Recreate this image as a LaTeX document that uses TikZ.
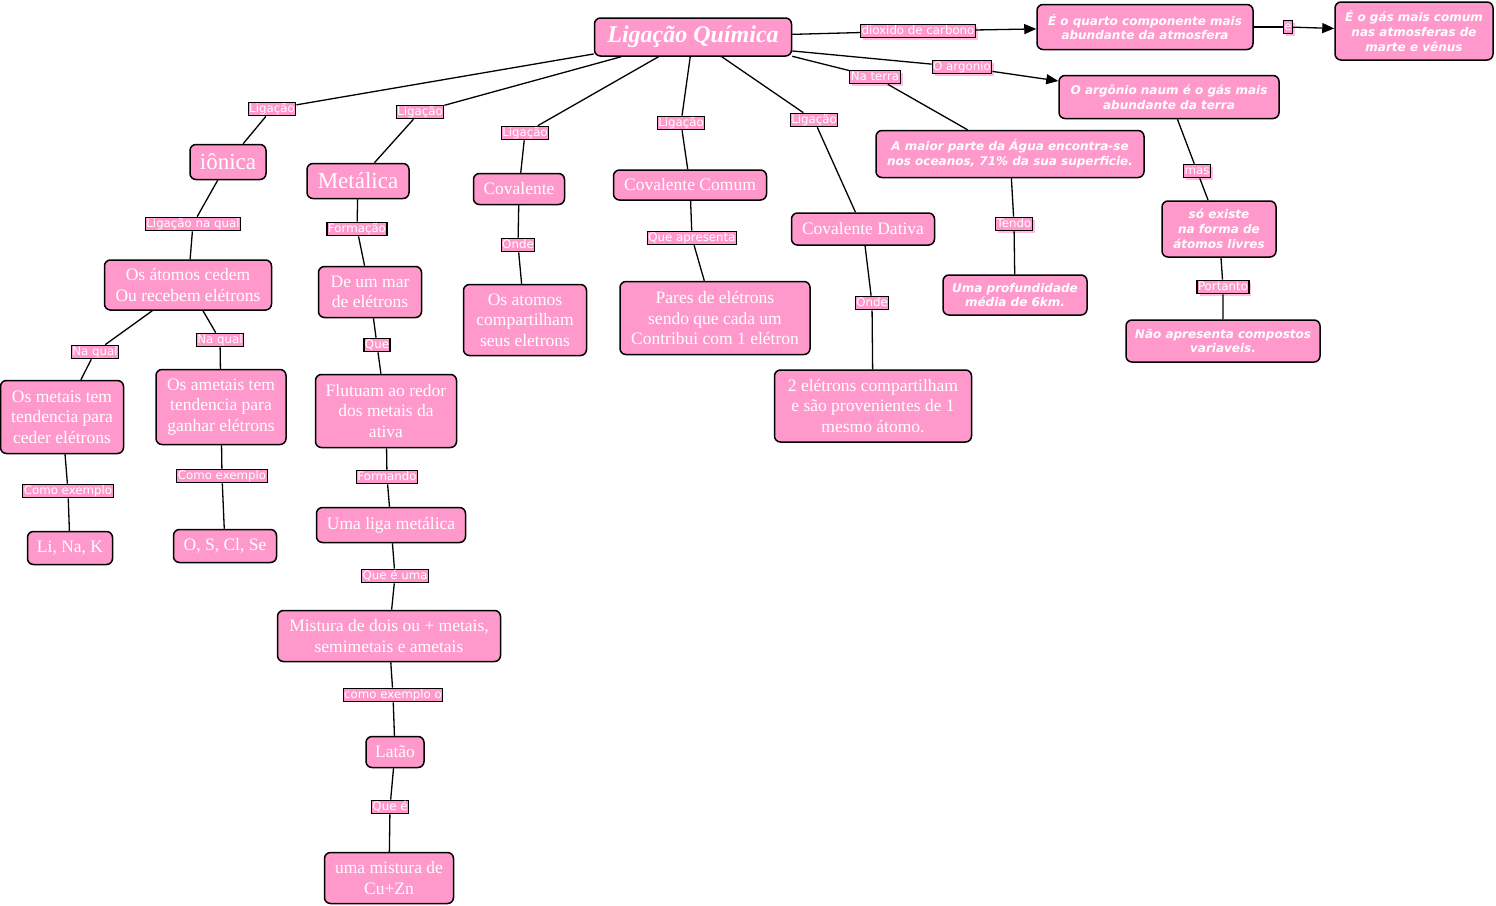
\documentclass[tikz,border=0pt]{standalone}
\usepackage{fontspec}
\setmainfont{Liberation Serif}
\newfontfamily\dvs{DejaVu Sans}
\usetikzlibrary{arrows.meta,shadows}
\definecolor{cpink}{RGB}{255,153,204}
\definecolor{spink}{RGB}{255,190,225}
\begin{document}
\begin{tikzpicture}[x=1pt,y=-1pt,
 concept/.style={draw=black, line width=1.5pt, fill=cpink, rounded corners=6pt, text=white, align=center, inner sep=0pt, font=\fontsize{17.5}{20.5}\selectfont},
 bi/.style={concept, font=\dvs\bfseries\itshape\fontsize{12}{14.8}\selectfont},
 lbl/.style={draw=black, line width=1.2pt, fill=cpink, text=white, inner xsep=1pt, inner ysep=1pt, text height=8.8pt, text depth=2.6pt, font=\dvs\fontsize{11.8}{13}\selectfont},
 lblsh/.style={lbl, drop shadow={shadow xshift=2.5pt, shadow yshift=-2.5pt, fill=spink, opacity=1}},
 link/.style={line width=1.3pt},
 arr/.style={link, -{Triangle[length=12pt,width=10pt]}},
 sz/.style 2 args={minimum width=#1pt, minimum height=#2pt}
]
\fill[white] (0,0) rectangle (1496,905);
\useasboundingbox (0,0) rectangle (1496,905);

% concepts
\node[concept, sz={197}{38}, font=\bfseries\itshape\fontsize{24}{28}\selectfont] (main) at (693,37) {Ligação Química};
\node[bi, sz={216}{45}] (quarto) at (1145,27) {É o quarto componente mais\\abundante da atmosfera};
\node[bi, sz={158}{58}] (gascomum) at (1414,31) {É o gás mais comum\\nas atmosferas de\\marte e vênus};
\node[bi, sz={220}{43}] (argnaum) at (1169,97) {O argônio naum é o gás mais\\abundante da terra};
\node[bi, sz={268}{47}] (agua) at (1010,154) {A maior parte da Água encontra-se\\nos oceanos, 71\% da sua superficie.};
\node[bi, sz={144}{40}] (profund) at (1015,295) {Uma profundidade\\média de 6km.};
\node[bi, sz={114}{56}] (soexiste) at (1219,229) {só existe\\na forma de\\átomos livres};
\node[bi, sz={194}{42}] (naoapres) at (1223,341) {Não apresenta compostos\\variaveis.};

\node[concept, sz={76}{35}, font=\fontsize{23}{26}\selectfont] (ionica) at (228,162) {iônica};
\node[concept, sz={167}{50}] (cedem) at (188,285) {Os átomos cedem\\Ou recebem elétrons};
\node[concept, sz={123}{73}] (metaistem) at (62,417) {Os metais tem\\tendencia para\\ceder elétrons};
\node[concept, sz={130}{75}] (ametais) at (221,407) {Os ametais tem\\tendencia para\\ganhar elétrons};
\node[concept, sz={85}{33}] (lina) at (70,548) {Li, Na, K};
\node[concept, sz={103}{33}] (osclse) at (225,546) {O, S, Cl, Se};

\node[concept, sz={102}{35}, font=\fontsize{23}{26}\selectfont] (metalica) at (358,181) {Metálica};
\node[concept, sz={103}{51}] (mar) at (370,292) {De um mar\\de elétrons};
\node[concept, sz={141}{73}] (flutuam) at (386,411) {Flutuam ao redor\\dos metais da\\ativa};
\node[concept, sz={149}{35}] (liga) at (391,525) {Uma liga metálica};
\node[concept, sz={223}{51}] (mistura) at (389,636) {Mistura de dois ou + metais,\\semimetais e ametais};
\node[concept, sz={58}{31}] (latao) at (395,752) {Latão};
\node[concept, sz={129}{51}] (cuzn) at (389,878) {uma mistura de\\Cu+Zn};

\node[concept, sz={91}{31}] (covalente) at (519,189) {Covalente};
\node[concept, sz={123}{71}] (atcomp) at (525,320) {Os atomos\\compartilham\\seus eletrons};
\node[concept, sz={153}{30}] (comum) at (690,185) {Covalente Comum};
\node[concept, sz={190}{73}] (pares) at (715,318) {Pares de elétrons\\sendo que cada um\\Contribui com 1 elétron};
\node[concept, sz={143}{32}] (dativa) at (863,229) {Covalente Dativa};
\node[concept, sz={197}{72}] (dois) at (873,406) {2 elétrons compartilham\\e são provenientes de 1\\mesmo átomo.};

% labels
\node[lbl] (l1) at (272,109) {Ligação};
\node[lbl] (l2) at (420,112) {Ligação};
\node[lbl] (l3) at (525,133) {Ligação};
\node[lbl] (l4) at (681,123) {Ligação};
\node[lbl] (l5) at (814,120) {Ligação};
\node[lblsh] (lterra) at (875,77) {Na terra};
\node[lblsh] (largonio) at (962,67) {O argonio};
\node[lblsh] (ldiox) at (918,31) {dioxido de carbono};
\node[lblsh] (le) at (1288,27) {e};
\node[lbl] (lqual) at (193,224) {Ligação na qual};
\node[lbl] (nq1) at (95,352) {Na qual};
\node[lbl] (nq2) at (220,340) {Na qual};
\node[lbl] (ce1) at (68,491) {Como exemplo};
\node[lbl] (ce2) at (222,476) {Como exemplo};
\node[lbl] (formacao) at (357,229) {Formação};
\node[lbl] (que) at (377,345) {Que};
\node[lbl] (formando) at (387,477) {Formando};
\node[lbl] (queeuma) at (395,576) {Que é uma};
\node[lbl] (comoex) at (393,695) {como exemplo o};
\node[lbl] (quee) at (390,807) {Que é};
\node[lbl] (onde1) at (518,245) {Onde};
\node[lbl] (queapres) at (692,238) {Que apresenta};
\node[lbl] (onde2) at (872,303) {Onde};
\node[lblsh] (tendo) at (1014,224) {Tendo};
\node[lblsh] (mas) at (1197,171) {mas};
\node[lblsh] (portanto) at (1223,287) {Portanto};

% connectors
\draw[link] (main) -- (l1) -- (ionica);
\draw[link] (main) -- (l2) -- (metalica);
\draw[link] (main) -- (l3) -- (covalente);
\draw[link] (main) -- (l4) -- (comum);
\draw[link] (main) -- (l5) -- (dativa);
\draw[link] (main.-11) -- (lterra) -- (agua);
\draw[link] (main.-8) -- (largonio);
\draw[arr] (largonio) -- (argnaum);
\draw[link] (main) -- (ldiox);
\draw[arr] (ldiox) -- (quarto);
\draw[link] (quarto) -- (le);
\draw[arr] (le) -- (gascomum);
\draw[link] (ionica) -- (lqual) -- (cedem);
\draw[link] (cedem) -- (nq1) -- (metaistem);
\draw[link] (cedem) -- (nq2) -- (ametais);
\draw[link] (metaistem) -- (ce1) -- (lina);
\draw[link] (ametais) -- (ce2) -- (osclse);
\draw[link] (metalica) -- (formacao) -- (mar);
\draw[link] (mar) -- (que) -- (flutuam);
\draw[link] (flutuam) -- (formando) -- (liga);
\draw[link] (liga) -- (queeuma) -- (mistura);
\draw[link] (mistura) -- (comoex) -- (latao);
\draw[link] (latao) -- (quee) -- (cuzn);
\draw[link] (covalente) -- (onde1) -- (atcomp);
\draw[link] (comum) -- (queapres) -- (pares);
\draw[link] (dativa) -- (onde2) -- (dois);
\draw[link] (agua) -- (tendo) -- (profund);
\draw[link] (argnaum) -- (mas) -- (soexiste);
\draw[link] (soexiste) -- (portanto) -- (naoapres);
\end{tikzpicture}
\end{document}
